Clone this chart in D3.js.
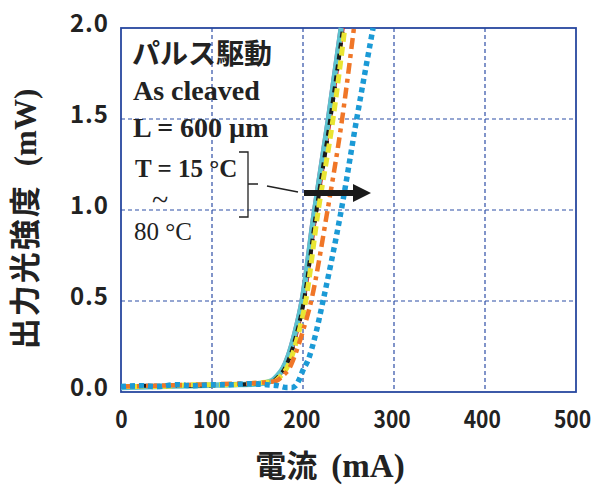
<!DOCTYPE html>
<html>
<head>
<meta charset="utf-8">
<script src="https://cdn.jsdelivr.net/npm/d3@7"></script>
<style>
  body { margin: 0; background: #fff; }
  svg { display: block; }
</style>
</head>
<body>
<div id="chart"></div>
<script>
// data (current in mA, output in mW)
const xTicks = [0, 100, 200, 300, 400, 500];
const yTicks = [0, 0.5, 1.0, 1.5, 2.0];

const curr15 = [0, 40, 80, 120, 150, 163, 170, 176, 182, 189, 197, 210, 226, 240];
const pow15  = [0.025, 0.03, 0.035, 0.04, 0.045, 0.06, 0.09, 0.13, 0.2, 0.32, 0.5, 0.97, 1.5, 2.0];
const curr25 = [0, 40, 80, 120, 150, 168, 175, 181, 187, 194, 202, 215, 231, 245];
const pow25  = [0.02, 0.03, 0.03, 0.04, 0.045, 0.06, 0.09, 0.13, 0.2, 0.32, 0.5, 0.97, 1.5, 2.0];
const curr35 = [0, 40, 80, 120, 150, 165, 172, 178, 184, 191, 199, 212, 228, 242];
const pow35  = [0.025, 0.03, 0.035, 0.04, 0.045, 0.06, 0.09, 0.13, 0.2, 0.32, 0.5, 0.97, 1.5, 2.0];
const curr45 = [0, 40, 80, 120, 150, 167, 174, 180, 186, 193, 201, 214, 230, 244];
const pow45  = [0.03, 0.035, 0.035, 0.04, 0.045, 0.06, 0.09, 0.13, 0.2, 0.32, 0.5, 0.97, 1.5, 2.0];
const curr55 = [0, 40, 80, 120, 150, 169, 176, 182, 188, 195, 203, 216, 233, 246];
const pow55  = [0.03, 0.03, 0.04, 0.04, 0.05, 0.06, 0.09, 0.13, 0.2, 0.32, 0.5, 0.97, 1.5, 2.0];
const curr65 = [0, 40, 80, 120, 150, 170, 178, 185, 191, 199, 209, 226, 243, 256];
const pow65  = [0.03, 0.035, 0.04, 0.045, 0.05, 0.06, 0.09, 0.13, 0.2, 0.32, 0.5, 0.97, 1.5, 2.0];
const curr80 = [0, 20, 40, 60, 80, 100, 120, 140, 160, 172, 182, 188, 192, 196, 200, 206, 213, 222, 241, 259, 277];
const pow80  = [0.03, 0.035, 0.03, 0.04, 0.035, 0.04, 0.04, 0.045, 0.04, 0.035, 0.025, 0.025, 0.035, 0.07, 0.12, 0.18, 0.3, 0.5, 0.97, 1.5, 2.0];

const series = [
  {name: "15", I: curr15, P: pow15, color: "#e3287f", width: 1.6, dash: null},
  {name: "25", I: curr25, P: pow25, color: "#d4151c", width: 1.6, dash: null},
  {name: "35", I: curr35, P: pow35, color: "#5cc3cf", width: 5.5, dash: null},
  {name: "45", I: curr45, P: pow45, color: "#1a1a1a", width: 4, dash: "6,5"},
  {name: "55", I: curr55, P: pow55, color: "#e9e532", width: 5, dash: "9,5"},
  {name: "65", I: curr65, P: pow65, color: "#f07627", width: 4.5, dash: "11,5,4,5"},
  {name: "80", I: curr80, P: pow80, color: "#1b9ad6", width: 5.5, dash: "5,4"}
];

const W = 595, H = 488;
const margin = {top: 28, right: 19, bottom: 96, left: 121};
const width = W - margin.left - margin.right,
      height = H - margin.top - margin.bottom;
const gridColor = "#2d4ea6";

const svg = d3.select("#chart").append("svg")
  .attr("width", W).attr("height", H);
const g = svg.append("g")
  .attr("transform", `translate(${margin.left},${margin.top})`);

const xScale = d3.scaleLinear().domain([0, 500]).range([0, width]);
const yScale = d3.scaleLinear().domain([0, 2.0]).range([height, 0]);

// grid
g.append("g").selectAll("line")
  .data(xTicks.slice(1, -1))
  .join("line")
  .attr("x1", d => xScale(d)).attr("x2", d => xScale(d))
  .attr("y1", 0).attr("y2", height)
  .attr("stroke", gridColor).attr("stroke-width", 1.2)
  .attr("stroke-dasharray", "4,3");
g.append("g").selectAll("line")
  .data(yTicks.slice(1, -1))
  .join("line")
  .attr("y1", d => yScale(d)).attr("y2", d => yScale(d))
  .attr("x1", 0).attr("x2", width)
  .attr("stroke", gridColor).attr("stroke-width", 1.2)
  .attr("stroke-dasharray", "4,3");

// frame
g.append("rect")
  .attr("width", width).attr("height", height)
  .attr("fill", "none").attr("stroke", "#27479f").attr("stroke-width", 1.8);

// curves
const line = d3.line()
  .x(d => xScale(d[0]))
  .y(d => yScale(d[1]))
  .curve(d3.curveMonotoneX);
g.append("g").selectAll("path")
  .data(series)
  .join("path")
  .attr("d", s => line(s.I.map((c, i) => [c, s.P[i]])))
  .attr("fill", "none")
  .attr("stroke", s => s.color)
  .attr("stroke-width", s => s.width)
  .attr("stroke-dasharray", s => s.dash);

// axes
const xAxis = d3.axisBottom(xScale).tickValues(xTicks).tickSize(0).tickPadding(19);
const yAxis = d3.axisLeft(yScale).tickValues(yTicks).tickSize(0).tickPadding(13)
  .tickFormat(d3.format(".1f"));
const drawX = g.append("g").attr("transform", `translate(0,${height})`).call(xAxis);
const drawY = g.append("g").call(yAxis);
[drawX, drawY].forEach(a => {
  a.select(".domain").remove();
  a.selectAll("text")
    .attr("font-family", "'Noto Sans CJK JP', 'Noto Sans', sans-serif")
    .attr("font-weight", "bold")
    .attr("font-size", 24)
    .attr("fill", "#222");
});
drawX.selectAll("text")
  .attr("x", d => -d / 125)
  .attr("textLength", d => String(d).length * 12.4)
  .attr("lengthAdjust", "spacingAndGlyphs");
drawY.selectAll("text")
  .attr("dy", "0.15em")
  .attr("textLength", 38)
  .attr("lengthAdjust", "spacing");

// axis titles
const xt = svg.append("text")
  .attr("x", 330).attr("y", 477)
  .attr("text-anchor", "middle")
  .attr("fill", "#222").attr("font-weight", "bold");
xt.append("tspan").attr("font-family", "'Noto Sans CJK JP', sans-serif")
  .attr("font-size", 31).text("電流");
xt.append("tspan").attr("font-family", "'Liberation Serif', serif")
  .attr("font-size", 33).attr("dx", 14).text("(mA)");

const yt = svg.append("text")
  .attr("transform", "translate(36,219) rotate(-90)")
  .attr("text-anchor", "middle")
  .attr("fill", "#222").attr("font-weight", "bold");
yt.append("tspan").attr("font-family", "'Noto Sans CJK JP', sans-serif")
  .attr("font-size", 31).attr("letter-spacing", 2).text("出力光強度");
yt.append("tspan").attr("font-family", "'Liberation Serif', serif")
  .attr("font-size", 31).attr("dx", 18).text("(mW)");

// annotation
const ann = svg.append("g").attr("fill", "#222");
ann.append("text").attr("x", 132).attr("y", 64)
  .attr("font-family", "'Noto Sans CJK JP', sans-serif")
  .attr("font-weight", "bold").attr("font-size", 28).text("パルス駆動");
ann.append("text").attr("x", 133).attr("y", 100)
  .attr("font-family", "'Liberation Serif', serif")
  .attr("font-weight", "bold").attr("font-size", 28).text("As cleaved");
ann.append("text").attr("x", 133).attr("y", 137)
  .attr("font-family", "'Liberation Serif', serif")
  .attr("font-weight", "bold").attr("font-size", 28).text("L = 600 µm");
ann.append("text").attr("x", 135).attr("y", 177)
  .attr("font-family", "'Liberation Serif', serif")
  .attr("font-weight", "bold").attr("font-size", 25).text("T = 15 °C");
ann.append("text").attr("x", 152).attr("y", 210)
  .attr("font-family", "'Liberation Serif', serif")
  .attr("font-size", 30).text("~");
ann.append("text").attr("x", 134).attr("y", 240)
  .attr("font-family", "'Liberation Serif', serif")
  .attr("font-size", 25).text("80 °C");

// bracket and arrow
svg.append("path")
  .attr("d", "M239,152 H248 V217 H239 M248,184 H258")
  .attr("fill", "none").attr("stroke", "#222").attr("stroke-width", 1.3);
svg.append("path")
  .attr("d", "M267,186 L298,192")
  .attr("stroke", "#222").attr("stroke-width", 1.6);
svg.append("path")
  .attr("d", "M304,190 H353 V184 L371,193 L353,202 V196 H304 Z")
  .attr("fill", "#1a1a1a");
</script>
</body>
</html>
